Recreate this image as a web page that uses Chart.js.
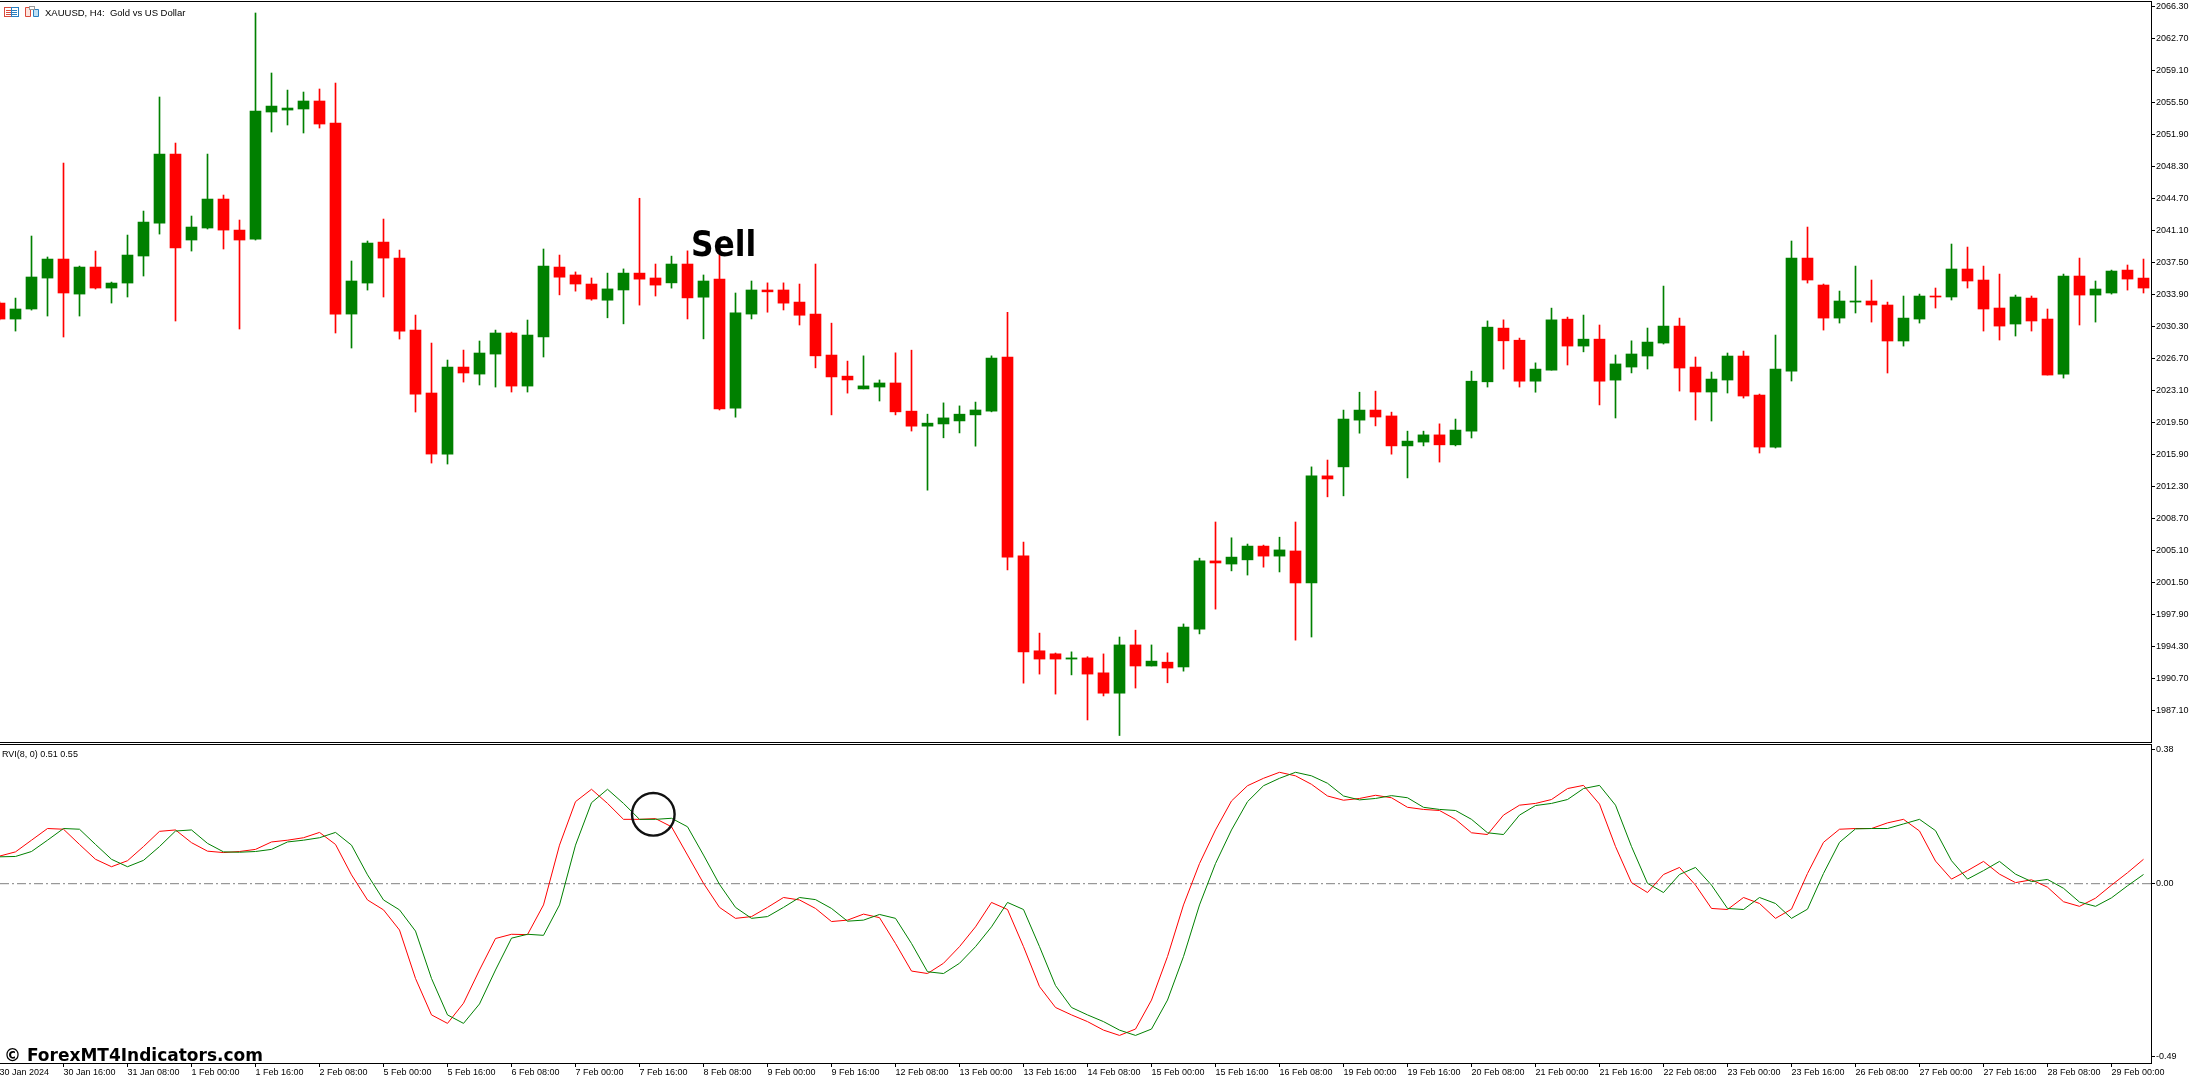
<!DOCTYPE html>
<html><head><meta charset="utf-8">
<style>
html,body{margin:0;padding:0;background:#fff;width:2193px;height:1078px;overflow:hidden}
canvas{position:absolute;left:0;display:block}
.t{position:absolute;white-space:pre;color:#000;line-height:1}
svg{position:absolute}
</style>
<script src="https://cdn.jsdelivr.net/npm/chart.js@4/dist/chart.umd.min.js"></script>
</head><body>
<canvas id="price" width="2193" height="743" style="top:0"></canvas>
<canvas id="rvi" width="2193" height="335" style="top:743px"></canvas>

<svg style="left:4px;top:6px" width="38" height="12" viewBox="0 0 38 12">
<rect x="0.5" y="1.5" width="7" height="9" fill="#fff" stroke="#d84a3c"/><rect x="7.5" y="1.5" width="7" height="9" fill="#fff" stroke="#2a7fc0"/>
<path d="M2 4.5h5M2 6.5h5M2 8.5h5" stroke="#d84a3c"/><path d="M8 4.5h5M8 6.5h5M8 8.5h5" stroke="#2a7fc0"/>
<path d="M21.5 1.5h5v9h-5z" fill="#fde4de" stroke="#d84a3c"/><path d="M29.5 3.5h5v7h-5z" fill="#bfe0f5" stroke="#2a7fc0"/><rect x="25.5" y="0.5" width="5" height="3" fill="#fff" stroke="#999"/>
</svg>
<div class="t" style="left:45px;top:7px;font:9.5px 'Liberation Sans'">XAUUSD, H4:  Gold vs US Dollar</div>
<div class="t" style="left:2px;top:749px;font:9px 'Liberation Sans'">RVI(8, 0) 0.51 0.55</div>
<div class="t" id="sell" style="left:691px;top:223px;font:bold 36px 'DejaVu Sans';transform:scaleX(.87);transform-origin:0 0">Sell</div>
<div class="t" style="left:4px;top:1045px;font:bold 17px 'DejaVu Sans'">© ForexMT4Indicators.com</div>
<svg style="left:625px;top:785px" width="60" height="60"><circle cx="28.3" cy="29.3" r="21.3" fill="none" stroke="#111" stroke-width="2.4"/></svg>

<script>
const openP=[2032.92,2031.12,2032.25,2035.73,2037.87,2033.93,2036.97,2034.61,2035.17,2038.21,2041.92,2049.68,2040.01,2041.36,2044.62,2041.13,2040.12,2054.41,2054.63,2054.75,2055.65,2053.17,2031.68,2035.17,2039.78,2037.98,2029.88,2022.80,2015.93,2025.72,2024.93,2027.18,2029.55,2023.58,2029.10,2036.97,2036.08,2035.06,2033.24,2034.39,2036.29,2035.74,2035.19,2037.31,2033.58,2035.61,2021.10,2031.68,2034.39,2034.39,2033.03,2031.68,2027.07,2024.70,2023.26,2023.47,2023.93,2020.76,2019.07,2019.32,2019.66,2020.34,2020.76,2026.85,2004.47,1993.80,1993.46,1992.87,1993.00,1991.32,1989.03,1994.46,1992.09,1992.52,1991.98,1996.24,2003.91,2003.56,2004.03,2005.58,2004.45,2005.03,2001.43,2013.48,2014.49,2019.75,2020.88,2020.22,2016.85,2017.28,2018.09,2016.97,2018.51,2024.06,2030.10,2028.74,2024.13,2025.37,2031.11,2028.08,2028.86,2024.25,2025.72,2026.96,2028.42,2030.33,2025.72,2022.91,2024.26,2026.96,2022.57,2016.72,2025.27,2037.98,2034.95,2031.23,2033.03,2033.15,2032.70,2028.65,2031.12,2033.71,2033.60,2036.75,2035.51,2032.36,2030.56,2033.48,2031.12,2024.93,2035.96,2033.82,2034.05,2036.63,2035.73];
const closeP=[2031.12,2032.25,2035.85,2037.87,2034.05,2036.97,2034.61,2035.17,2038.32,2042.03,2049.68,2039.11,2041.47,2044.62,2041.13,2040.01,2054.52,2055.08,2054.86,2055.65,2053.06,2031.68,2035.40,2039.67,2037.98,2029.77,2022.68,2015.93,2025.72,2025.05,2027.30,2029.55,2023.58,2029.32,2037.08,2035.83,2035.06,2033.37,2034.51,2036.29,2035.61,2034.94,2037.31,2033.50,2035.40,2021.01,2031.81,2034.39,2034.18,2032.91,2031.55,2026.98,2024.61,2024.27,2023.60,2023.93,2020.68,2019.07,2019.41,2020.00,2020.42,2020.89,2026.73,2004.34,1993.68,1992.87,1992.87,1993.00,1991.18,1989.03,1994.46,1992.09,1992.64,1991.86,1996.47,2003.91,2003.68,2004.34,2005.58,2004.45,2005.15,2001.43,2013.48,2013.13,2019.87,2020.88,2020.10,2016.85,2017.39,2018.09,2016.97,2018.63,2024.13,2030.21,2028.67,2024.13,2025.49,2031.03,2028.08,2028.86,2024.13,2026.07,2027.19,2028.53,2030.33,2025.61,2022.91,2024.37,2026.96,2022.46,2016.72,2025.50,2037.98,2035.51,2031.23,2033.15,2033.15,2032.70,2028.65,2031.23,2033.71,2033.60,2036.75,2035.40,2032.25,2030.33,2033.60,2030.90,2024.82,2035.96,2033.82,2034.50,2036.52,2035.62,2034.61];
const highP=[2033.07,2033.48,2040.46,2038.10,2048.67,2037.08,2038.77,2035.28,2040.57,2043.27,2056.10,2050.92,2042.71,2049.68,2045.07,2042.26,2065.55,2058.80,2056.88,2056.66,2057.00,2057.67,2037.65,2039.90,2042.37,2038.88,2031.57,2028.42,2026.51,2027.63,2028.65,2029.88,2029.66,2031.01,2039.00,2038.32,2036.42,2035.74,2036.29,2036.76,2044.71,2037.31,2038.20,2038.79,2036.08,2039.13,2034.05,2035.40,2035.19,2035.19,2035.06,2037.31,2030.66,2026.39,2026.98,2024.27,2027.32,2027.62,2020.42,2021.69,2021.35,2021.78,2026.98,2031.89,2006.03,1995.79,1993.55,1993.68,1993.13,1993.45,1995.35,1996.12,1994.46,1993.57,1996.82,2004.22,2008.29,2006.51,2005.81,2005.69,2006.58,2008.29,2014.49,2015.26,2020.88,2022.89,2023.01,2020.65,2018.51,2018.51,2019.33,2019.87,2025.26,2030.91,2031.03,2028.98,2026.19,2032.35,2031.34,2031.57,2030.45,2027.08,2028.67,2030.11,2034.83,2031.23,2026.85,2025.16,2027.30,2027.52,2022.68,2029.32,2039.90,2041.47,2035.06,2034.27,2037.08,2035.51,2033.03,2033.71,2033.93,2034.61,2039.56,2039.22,2037.08,2036.18,2033.82,2033.71,2032.25,2036.18,2037.98,2035.40,2036.63,2037.20,2037.87];
const lowP=[2031.01,2029.77,2032.13,2031.46,2029.10,2031.46,2034.50,2032.92,2033.60,2035.96,2040.68,2030.90,2038.77,2041.25,2039.00,2030.00,2040.01,2052.16,2052.95,2052.05,2052.61,2029.55,2027.86,2034.38,2033.60,2028.87,2020.66,2014.92,2014.81,2024.03,2023.70,2023.47,2022.91,2022.91,2026.85,2033.84,2034.26,2033.24,2031.26,2030.58,2032.69,2033.71,2034.60,2031.13,2028.89,2020.89,2020.08,2031.13,2031.89,2032.14,2030.45,2025.63,2020.34,2022.79,2023.26,2021.90,2020.34,2018.52,2011.87,2017.76,2018.31,2016.82,2020.68,2002.90,1990.16,1991.18,1988.93,1991.09,1986.02,1988.72,1984.27,1989.61,1992.09,1990.20,1991.51,1995.70,1998.49,2002.79,2002.32,2003.21,2002.67,1995.00,1995.35,2011.12,2011.23,2018.28,2019.10,2015.92,2013.25,2016.85,2015.03,2016.85,2017.74,2023.47,2025.49,2023.47,2022.89,2025.37,2025.95,2027.43,2021.46,2019.99,2025.06,2025.50,2028.31,2023.02,2019.76,2019.65,2022.80,2022.23,2016.05,2016.61,2024.15,2035.17,2029.88,2030.67,2031.80,2030.78,2025.05,2028.08,2030.67,2032.36,2033.26,2034.61,2029.77,2028.76,2029.21,2029.77,2024.82,2024.48,2030.45,2030.78,2033.93,2034.38,2034.05];
const rviMain=[.078,.090,.123,.156,.154,.111,.069,.048,.065,.105,.148,.152,.116,.092,.088,.091,.097,.118,.123,.130,.145,.111,.025,-.046,-.074,-.131,-.268,-.371,-.395,-.338,-.244,-.155,-.143,-.144,-.060,.109,.232,.267,.227,.182,.182,.184,.161,.081,.001,-.067,-.098,-.093,-.067,-.039,-.046,-.070,-.107,-.103,-.086,-.096,-.169,-.247,-.254,-.225,-.178,-.122,-.053,-.073,-.178,-.291,-.350,-.371,-.390,-.414,-.429,-.411,-.329,-.206,-.060,.057,.152,.234,.277,.298,.315,.305,.281,.248,.236,.241,.250,.243,.216,.210,.207,.182,.144,.139,.194,.222,.227,.238,.269,.278,.225,.105,.003,-.025,.026,.046,-.004,-.070,-.073,-.039,-.056,-.098,-.072,.029,.117,.154,.156,.156,.172,.182,.149,.064,.013,.037,.063,.027,.003,.011,-.010,-.051,-.064,-.041,-.004,.031,.069];
const rviSignal=[.076,.077,.091,.123,.156,.154,.111,.069,.048,.066,.105,.149,.152,.114,.090,.089,.091,.097,.118,.123,.130,.145,.109,.025,-.046,-.074,-.134,-.268,-.371,-.395,-.340,-.244,-.154,-.143,-.146,-.060,.109,.229,.267,.227,.182,.182,.185,.161,.081,-.002,-.067,-.098,-.093,-.067,-.039,-.045,-.070,-.106,-.103,-.087,-.098,-.169,-.249,-.254,-.225,-.178,-.122,-.053,-.073,-.178,-.288,-.350,-.371,-.390,-.414,-.429,-.411,-.329,-.206,-.060,.057,.152,.232,.277,.298,.315,.305,.284,.248,.237,.241,.249,.243,.216,.210,.207,.182,.144,.139,.194,.221,.227,.238,.269,.278,.222,.105,.001,-.025,.026,.046,-.004,-.070,-.073,-.039,-.056,-.098,-.072,.029,.117,.155,.156,.156,.169,.182,.150,.065,.013,.037,.063,.027,.006,.012,-.013,-.052,-.064,-.040,-.006,.026];
const rviLevel=[0,0];
const priceTicks=[2066.30,2062.70,2059.10,2055.50,2051.90,2048.30,2044.70,2041.10,2037.50,2033.90,2030.30,2026.70,2023.10,2019.50,2015.90,2012.30,2008.70,2005.10,2001.50,1997.90,1994.30,1990.70,1987.10];
const rviTicks=[0.38,0.00,-0.49];
const timeTicks=[0,4,8,12,16,20,24,28,32,36,40,44,48,52,56,60,64,68,72,76,80,84,88,92,96,100,104,108,112,116,120,124,128,132];
const timeLabels=['30 Jan 2024','30 Jan 16:00','31 Jan 08:00','1 Feb 00:00','1 Feb 16:00','2 Feb 08:00','5 Feb 00:00','5 Feb 16:00','6 Feb 08:00','7 Feb 00:00','7 Feb 16:00','8 Feb 08:00','9 Feb 00:00','9 Feb 16:00','12 Feb 08:00','13 Feb 00:00','13 Feb 16:00','14 Feb 08:00','15 Feb 00:00','15 Feb 16:00','16 Feb 08:00','19 Feb 00:00','19 Feb 16:00','20 Feb 08:00','21 Feb 00:00','21 Feb 16:00','22 Feb 08:00','23 Feb 00:00','23 Feb 16:00','26 Feb 08:00','27 Feb 00:00','27 Feb 16:00','28 Feb 08:00','29 Feb 00:00'];

const GREEN='#008000',RED='#ff0000';
const XMIN=0.03125,XMAX=134.46875;
const colors=openP.map((o,i)=>closeP[i]>=o?GREEN:RED);
const wicks=openP.map((_,i)=>({x:i,y:[lowP[i],highP[i]]}));
const bodies=openP.map((o,i)=>({x:i,y:[Math.min(o,closeP[i]),Math.max(o,closeP[i])]}));
const axisFont={family:"'Liberation Sans'",size:9};

const frame={id:'frame',afterDraw(c){const a=c.chartArea,x=c.ctx;x.save();x.fillStyle='#000';
  if(c.canvas.id==='price'){x.fillRect(0,1,a.right+1,1);x.fillRect(0,a.bottom,a.right+1,1);}
  else{x.fillRect(0,a.top,a.right+1,1);}
  x.restore();}};

function noPad(s){s.paddingTop=0;s.paddingBottom=0;s.paddingLeft=0;s.paddingRight=0;}
function yAxis(min,max,ticks,dec){return{
  position:'right',min,max,
  afterFit(s){s.width=42;noPad(s);},
  afterBuildTicks(s){s.ticks=ticks.map(v=>({value:v}));},
  border:{display:true,color:'#000',width:1},
  grid:{display:true,drawOnChartArea:false,drawTicks:true,tickLength:4,tickColor:'#000'},
  ticks:{color:'#000',font:axisFont,padding:1,autoSkip:false,callback:v=>v.toFixed(dec)}
};}

new Chart(document.getElementById('price'),{
  type:'bar',
  data:{datasets:[
    {label:'High-Low',data:wicks,backgroundColor:colors,barThickness:1,grouped:false,order:2},
    {label:'Open-Close',data:bodies,backgroundColor:colors,barThickness:11,grouped:false,minBarLength:1,order:1}
  ]},
  options:{responsive:false,animation:false,devicePixelRatio:1,
    layout:{padding:{top:1,bottom:1,left:0,right:0}},
    plugins:{legend:{display:false},tooltip:{enabled:false}},
    scales:{
      x:{type:'linear',min:XMIN,max:XMAX,offset:false,display:false},
      y:yAxis(1983.54,2066.90,priceTicks,2)
    }},
  plugins:[frame]
});

new Chart(document.getElementById('rvi'),{
  type:'line',
  data:{datasets:[
    {label:'Level',data:[{x:XMIN,y:rviLevel[0]},{x:XMAX,y:rviLevel[1]}],borderColor:'#808080',borderWidth:1,borderDash:[9,3,2,3],pointRadius:0,order:3},
    {label:'RVI',data:rviMain.map((v,i)=>({x:i,y:v})),borderColor:RED,borderWidth:1,pointRadius:0,tension:0,order:2},
    {label:'Signal',data:rviSignal.map((v,i)=>({x:i,y:v})),borderColor:GREEN,borderWidth:1,pointRadius:0,tension:0,order:1}
  ]},
  options:{responsive:false,animation:false,devicePixelRatio:1,
    layout:{padding:{top:1,bottom:0,left:0,right:0}},
    plugins:{legend:{display:false},tooltip:{enabled:false}},
    scales:{
      x:{type:'linear',min:XMIN,max:XMAX,offset:false,
        afterFit(s){s.height=15;noPad(s);},
        afterBuildTicks(s){s.ticks=timeTicks.map(v=>({value:v}));},
        border:{display:true,color:'#000',width:1},
        grid:{display:true,drawOnChartArea:false,drawTicks:true,tickLength:4,tickColor:'#000'},
        ticks:{color:'#000',font:axisFont,padding:0,align:'start',autoSkip:false,maxRotation:0,minRotation:0,
          callback:v=>timeLabels[timeTicks.indexOf(v)]}
      },
      y:yAxis(-0.507,0.395,rviTicks,2)
    }},
  plugins:[frame]
});
</script>
</body></html>
